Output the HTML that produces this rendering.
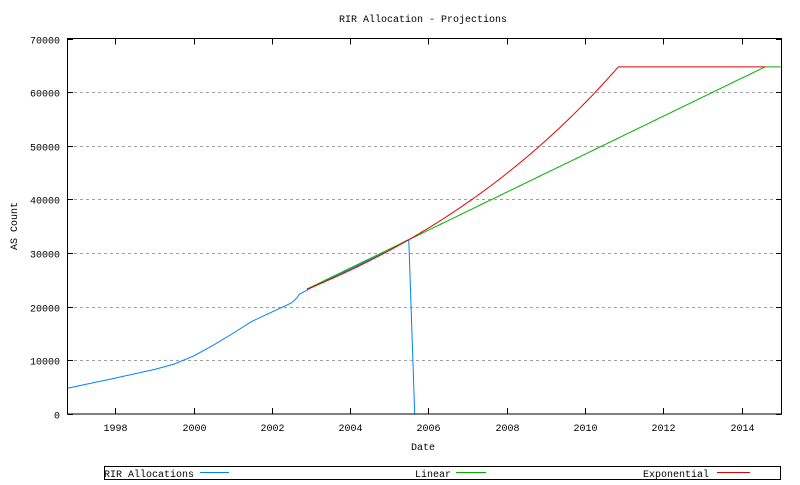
<!DOCTYPE html>
<html><head><meta charset="utf-8"><style>
body{margin:0;background:#fff}
svg text{font-family:"Liberation Mono",monospace;font-size:10px;fill:#000}
</style></head><body>
<svg id="s" width="800" height="480" xmlns="http://www.w3.org/2000/svg">
<rect width="800" height="480" fill="#fff"/>
<text x="423" y="22" text-anchor="middle">RIR Allocation - Projections</text>
<g id="grid" stroke="#a0a0a0" stroke-dasharray="3,3" stroke-width="1"></g>
<g id="ticks" stroke="#000" stroke-width="1"></g>
<g id="labels"></g>
<text x="423" y="450" text-anchor="middle">Date</text>
<text transform="translate(17,226) rotate(-90)" text-anchor="middle">AS Count</text>
<polyline id="blue" fill="none" stroke="#0080ff" stroke-width="1"/>
<polyline id="green" fill="none" stroke="#00b000" stroke-width="1"/>
<polyline id="red" fill="none" stroke="#e00000" stroke-width="1"/>
<rect x="67.5" y="38.5" width="714" height="375.5" fill="none" stroke="#000" stroke-width="1"/>
<rect x="104.5" y="466.5" width="676" height="13" fill="none" stroke="#000" stroke-width="1"/>
<text x="104" y="477">RIR Allocations</text>
<line x1="200" y1="472.5" x2="229" y2="472.5" stroke="#0080ff"/>
<text x="451" y="477" text-anchor="end">Linear</text>
<line x1="456" y1="472.5" x2="486" y2="472.5" stroke="#00b000"/>
<text x="709" y="477" text-anchor="end">Exponential</text>
<line x1="717" y1="472.5" x2="750" y2="472.5" stroke="#e00000"/>
</svg>
<script>
const X=y=>193.5+(y-2000)*39.15, Y=v=>414-v*375.5/70000;
const g=document.getElementById('grid'),t=document.getElementById('ticks'),l=document.getElementById('labels');
const ns='http://www.w3.org/2000/svg';
function el(p,n,a,txt){const e=document.createElementNS(ns,n);for(const k in a)e.setAttribute(k,a[k]);if(txt)e.textContent=txt;p.appendChild(e);}
for(let v=0;v<=70000;v+=10000){const y=Math.round(Y(v))+0.5;
 if(v>0&&v<70000)el(g,'line',{x1:68,y1:y,x2:781,y2:y});
 el(t,'line',{x1:67.5,y1:y,x2:73,y2:y});el(t,'line',{x1:776,y1:y,x2:781.5,y2:y});
 el(l,'text',{x:60,y:y+4,'text-anchor':'end'},String(v));}
for(let yr=1998;yr<=2014;yr+=2){const x=Math.round(X(yr))+0.5;
 el(t,'line',{x1:x,y1:414,x2:x,y2:408});el(t,'line',{x1:x,y1:38.5,x2:x,y2:44.5});
 el(l,'text',{x:x,y:431,'text-anchor':'middle'},String(yr));}
const bp=[[1996.78,4800],[1998,6700],[1999,8300],[1999.5,9300],[2000,10800],[2000.5,12800],[2001,15000],[2001.5,17300],[2002,19000],[2002.5,20700],[2002.65,21700],[2002.7,22300],[2003,23500],[2004,27000],[2005,30500],[2005.45,32400],[2005.5,32400],[2005.65,0]];
document.getElementById('blue').setAttribute('points',bp.map(p=>X(p[0]).toFixed(1)+','+Y(p[1]).toFixed(1)).join(' '));
let gp=[],rp=[];
for(let yr=2002.9;yr<=2015.0;yr+=0.05){
 let lv=Math.min(64700,32500+(yr-2005.5)*3540);gp.push(X(yr).toFixed(1)+','+Y(lv).toFixed(1));
 if(yr<=2014.6){let ev=Math.min(64700,32500*Math.exp(0.1287*(yr-2005.5)));rp.push(X(yr).toFixed(1)+','+Y(ev).toFixed(1));}
}
document.getElementById('green').setAttribute('points',gp.join(' '));
document.getElementById('red').setAttribute('points',rp.join(' '));
</script>
</body></html>
